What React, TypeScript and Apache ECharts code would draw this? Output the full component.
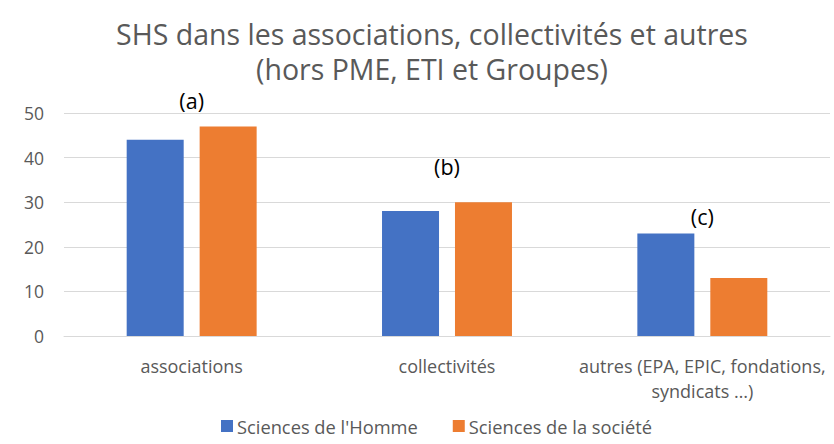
import React, { useEffect, useRef } from "react";
import * as echarts from "echarts";

const categories = ["associations", "collectivités", "autres (EPA, EPIC, fondations,\nsyndicats …)"];
const seriesNames = ["Sciences de l'Homme", "Sciences de la société"];
const hommeValues = [44, 28, 23];
const societeValues = [47, 30, 13];
const annotations = ["(a)", "(b)", "(c)"];
const annotationValues = [52.9, 38.1, 26.9];
const titleLine1 = "SHS dans les associations, collectivités et autres";
const titleLine2 = "(hors PME, ETI et Groupes)";

const FONT = "'Open Sans', sans-serif";
const GRAY = "#595959";

export default function App() {
  const ref = useRef<HTMLDivElement>(null);
  useEffect(() => {
    if (!ref.current) return;
    const chart = echarts.init(ref.current, null, { renderer: "svg" });
    const titleStyle = { fontFamily: FONT, fontSize: 28.5, fontWeight: "normal", color: GRAY, lineHeight: 35 };
    chart.setOption({
      animation: false,
      textStyle: { fontFamily: FONT },
      title: {
        text: titleLine1,
        subtext: titleLine2,
        left: 432,
        textAlign: "center",
        top: 16,
        padding: 0,
        itemGap: 0,
        textStyle: titleStyle,
        subtextStyle: titleStyle,
      },
      grid: { left: 64, right: 4, top: 113, bottom: 108, containLabel: false },
      legend: {
        bottom: 4,
        left: 216,
        itemWidth: 12,
        itemHeight: 12,
        itemGap: 35,
        icon: "rect",
        textStyle: { fontFamily: FONT, fontSize: 18.3, color: GRAY, padding: [0, 0, 0, -1] },
        data: seriesNames,
      },
      xAxis: {
        type: "category",
        data: categories,
        axisLine: { lineStyle: { color: "#d9d9d9", width: 1 } },
        axisTick: { show: false },
        axisLabel: { fontFamily: FONT, fontSize: 18, color: GRAY, margin: 17, lineHeight: 25, interval: 0 },
      },
      yAxis: {
        type: "value",
        min: 0,
        max: 50,
        interval: 10,
        axisLine: { show: false },
        axisTick: { show: false },
        axisLabel: { fontFamily: FONT, fontSize: 17.5, color: GRAY, margin: 20 },
        splitLine: { lineStyle: { color: "#d9d9d9", width: 1 } },
      },
      series: [
        {
          name: seriesNames[0],
          type: "bar",
          data: hommeValues,
          barWidth: 57,
          barGap: "28%",
          itemStyle: { color: "#4472C4" },
        },
        {
          name: seriesNames[1],
          type: "bar",
          data: societeValues,
          barWidth: 57,
          barGap: "28%",
          itemStyle: { color: "#ED7D31" },
        },
      ],
    });
    const graphics = annotations.map((a, i) => {
      const [px, py] = chart.convertToPixel({ gridIndex: 0 }, [i, annotationValues[i]]) as number[];
      return {
        type: "text",
        x: px,
        y: py,
        style: {
          text: a,
          fontFamily: FONT,
          fontSize: 21.5,
          fill: "#000",
          align: "center",
          verticalAlign: "middle",
        },
      };
    });
    chart.setOption({ graphic: graphics });
    return () => chart.dispose();
  }, []);
  return <div ref={ref} style={{ width: 834, height: 444, position: "absolute", left: 0, top: 0 }} />;
}
